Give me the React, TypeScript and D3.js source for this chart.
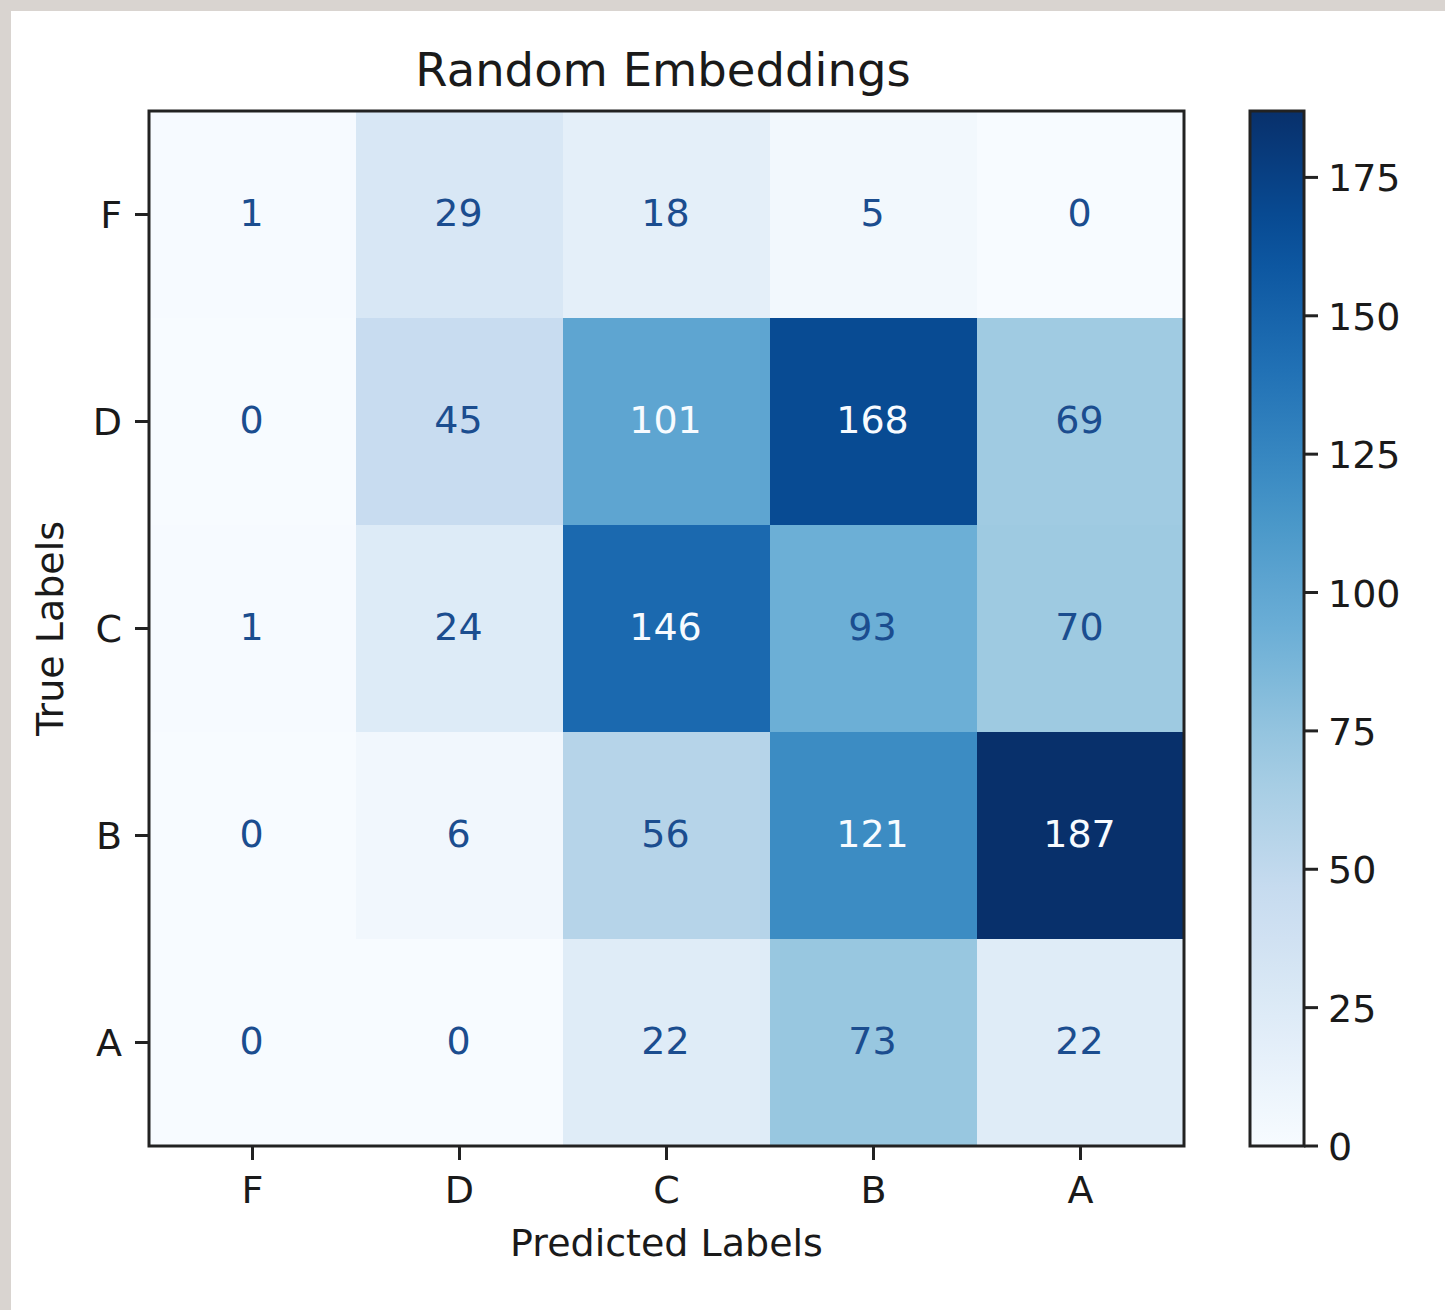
import React from "react";
import * as d3 from "d3";

const labels = ["F", "D", "C", "B", "A"];
const matrix: number[][] = [
  [1, 29, 18, 5, 0],
  [0, 45, 101, 168, 69],
  [1, 24, 146, 93, 70],
  [0, 6, 56, 121, 187],
  [0, 0, 22, 73, 22],
];
const colorbarTicks = [0, 25, 50, 75, 100, 125, 150, 175];
const bluesStops = ["#f7fbff", "#deebf7", "#c6dbef", "#9ecae1", "#6baed6", "#4292c6", "#2171b5", "#08519c", "#08306b"];

const W = 1445;
const H = 1310;
const left = 149, right = 1184, top = 111, bottom = 1146;
const cbLeft = 1250, cbRight = 1304;
const FONT = "DejaVu Sans, sans-serif";

export default function App() {
  const all = matrix.flat();
  const vmin = d3.min(all)!;
  const vmax = d3.max(all)!;
  const color = d3
    .scaleLinear<string>()
    .domain(bluesStops.map((_, i) => vmin + ((vmax - vmin) * i) / (bluesStops.length - 1)))
    .range(bluesStops)
    .interpolate(d3.interpolateRgb);
  const x = d3.scaleBand<string>().domain(labels).range([left, right]).padding(0);
  const y = d3.scaleBand<string>().domain(labels).range([top, bottom]).padding(0);
  const cb = d3.scaleLinear().domain([vmin, vmax]).range([bottom, top]);
  const thresh = (vmin + vmax) / 2;
  const gradStops = d3.range(0, 1.0001, 0.05);

  return (
    <svg width={W} height={H} style={{ position: "absolute", left: 0, top: 0 }} fontFamily={FONT}>
      <defs>
        <linearGradient id="cbgrad" x1="0" y1="1" x2="0" y2="0">
          {gradStops.map((t) => (
            <stop key={t} offset={t} stopColor={color(vmin + t * (vmax - vmin))} />
          ))}
        </linearGradient>
      </defs>
      <rect x={0} y={0} width={W} height={H} fill="#d9d4d0" />
      <rect x={11} y={11} width={W - 11} height={H - 11} fill="#ffffff" />

      <text x={663} y={70} fontSize={46.5} textAnchor="middle" dominantBaseline="central" fill="#1a1a1a">
        Random Embeddings
      </text>

      {matrix.map((row, i) =>
        row.map((v, j) => (
          <rect
            key={`${i}-${j}`}
            x={x(labels[j])!}
            y={y(labels[i])!}
            width={x.bandwidth() + 0.5}
            height={y.bandwidth() + 0.5}
            fill={color(v)}
          />
        ))
      )}
      {matrix.map((row, i) =>
        row.map((v, j) => (
          <text
            key={`t${i}-${j}`}
            x={x(labels[j])! + x.bandwidth() / 2 - 1}
            y={y(labels[i])! + y.bandwidth() / 2 - 2}
            fontSize={38}
            textAnchor="middle"
            dominantBaseline="central"
            fill={v > thresh ? "#f7fbff" : "#1b4d8f"}
          >
            {v}
          </text>
        ))
      )}
      <rect x={left} y={top} width={right - left} height={bottom - top} fill="none" stroke="#222" strokeWidth={3} />

      {labels.map((l) => (
        <g key={`x${l}`}>
          <line x1={x(l)! + x.bandwidth() / 2} x2={x(l)! + x.bandwidth() / 2} y1={bottom} y2={bottom + 14} stroke="#222" strokeWidth={3} />
          <text x={x(l)! + x.bandwidth() / 2} y={bottom + 44} fontSize={38} textAnchor="middle" dominantBaseline="central" fill="#1a1a1a">
            {l}
          </text>
        </g>
      ))}
      {labels.map((l) => (
        <g key={`y${l}`}>
          <line x1={left - 14} x2={left} y1={y(l)! + y.bandwidth() / 2} y2={y(l)! + y.bandwidth() / 2} stroke="#222" strokeWidth={3} />
          <text x={left - 27} y={y(l)! + y.bandwidth() / 2} fontSize={38} textAnchor="end" dominantBaseline="central" fill="#1a1a1a">
            {l}
          </text>
        </g>
      ))}
      <text x={(left + right) / 2} y={1243} fontSize={38} textAnchor="middle" dominantBaseline="central" fill="#1a1a1a">
        Predicted Labels
      </text>
      <text
        transform={`translate(50, ${(top + bottom) / 2}) rotate(-90)`}
        fontSize={38}
        textAnchor="middle"
        dominantBaseline="central"
        fill="#1a1a1a"
      >
        True Labels
      </text>

      <rect x={cbLeft} y={top} width={cbRight - cbLeft} height={bottom - top} fill="url(#cbgrad)" />
      <rect x={cbLeft} y={top} width={cbRight - cbLeft} height={bottom - top} fill="none" stroke="#222" strokeWidth={3} />
      {colorbarTicks.map((t) => (
        <g key={`c${t}`}>
          <line x1={cbRight} x2={cbRight + 14} y1={cb(t)} y2={cb(t)} stroke="#222" strokeWidth={3} />
          <text x={cbRight + 24} y={cb(t) + 1} fontSize={38} textAnchor="start" dominantBaseline="central" fill="#1a1a1a">
            {t}
          </text>
        </g>
      ))}
    </svg>
  );
}
